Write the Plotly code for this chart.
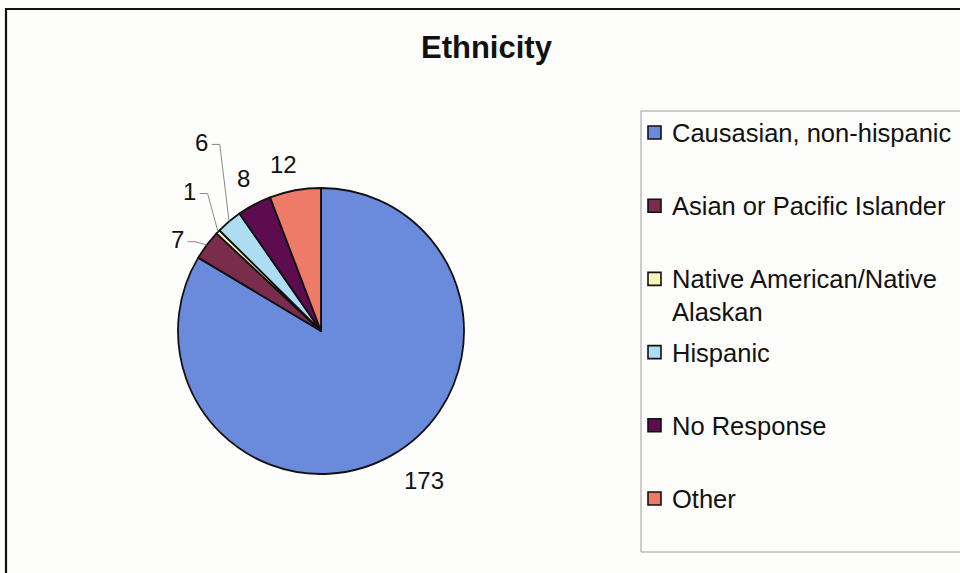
import math
import plotly.graph_objects as go

# ---- data ----
categories = ["Causasian, non-hispanic", "Asian or Pacific Islander",
              "Native American/Native Alaskan", "Hispanic", "No Response", "Other"]
legend_text = ["Causasian, non-hispanic", "Asian or Pacific Islander",
               "Native American/Native<br>Alaskan", "Hispanic", "No Response", "Other"]
values = [173, 7, 1, 6, 8, 12]
colors = ["#6A8BDB", "#7A2C4C", "#F8F5BA", "#AEDDF3", "#5E0C50", "#EE7A68"]

# ---- label placement style (radius factor, angle nudge in degrees, leader line) ----
label_r = [1.27, 1.19, 1.34, 1.56, 1.20, 1.19]
label_dang = [-4.9, -4.5, 2.8, 7.7, 0.8, -2.2]
label_leader = [False, True, True, True, False, False]

W, H = 960, 573
CX, CY, R = 321, 331, 143
FONT = "Liberation Sans, Arial, sans-serif"


def px(x):
    return x / W


def py(y):
    return 1 - y / H


fig = go.Figure()
fig.add_trace(go.Pie(
    labels=categories, values=values, sort=False, direction="clockwise", rotation=0,
    marker=dict(colors=colors, line=dict(color="#111111", width=1.8)),
    textinfo="none", hoverinfo="label+value", showlegend=False,
    domain=dict(x=[px(CX - R), px(CX + R)], y=[py(CY + R), py(CY - R)]),
))

shapes = []
annotations = []

# outer frame and legend box
shapes.append(dict(type="rect", xref="paper", yref="paper", x0=px(6), x1=px(975), y0=py(588), y1=py(9),
                   line=dict(color="#111111", width=2.2), fillcolor="rgba(0,0,0,0)", layer="below"))
shapes.append(dict(type="rect", xref="paper", yref="paper", x0=px(641), x1=px(975), y0=py(552), y1=py(111),
                   line=dict(color="#9A9A9A", width=1), fillcolor="rgba(0,0,0,0)", layer="below"))

# title
annotations.append(dict(text="<b>Ethnicity</b>", xref="paper", yref="paper", x=px(487), y=py(47),
                        showarrow=False, font=dict(family=FONT, size=31, color="#111111"),
                        xanchor="center", yanchor="middle"))

# slice labels computed from data angles
total = sum(values)
cum = 0.0
for i, v in enumerate(values):
    mid = (cum + v / 2) / total * 360.0
    cum += v
    a = math.radians(mid + label_dang[i])
    lx = CX + R * label_r[i] * math.sin(a)
    ly = CY - R * label_r[i] * math.cos(a)
    annotations.append(dict(text=str(v), xref="paper", yref="paper", x=px(lx), y=py(ly),
                            showarrow=False, font=dict(family=FONT, size=24, color="#111111"),
                            xanchor="center", yanchor="middle"))
    if label_leader[i]:
        am = math.radians(mid)
        ex = CX + R * math.sin(am)
        ey = CY - R * math.cos(am)
        x1, y1 = lx + 10, ly + 2
        x2 = lx + 18
        path = f"M {px(x1)} {py(y1)} L {px(x2)} {py(y1)} L {px(ex)} {py(ey)}"
        shapes.append(dict(type="path", xref="paper", yref="paper", path=path,
                           line=dict(color="#8A8A8A", width=1)))

# custom legend
for i, (t, c) in enumerate(zip(legend_text, colors)):
    yc = 131 + 73.2 * i
    shapes.append(dict(type="rect", xref="paper", yref="paper",
                       x0=px(648), x1=px(661), y0=py(yc + 8), y1=py(yc - 5),
                       fillcolor=c, line=dict(color="#111111", width=1.6)))
    annotations.append(dict(text=t, xref="paper", yref="paper", x=px(670), y=py(yc - 14),
                            showarrow=False, font=dict(family=FONT, size=25.5, color="#111111"),
                            xanchor="left", yanchor="top", align="left"))

fig.update_layout(
    width=W, height=H, margin=dict(l=0, r=0, t=0, b=0),
    paper_bgcolor="#FDFDFB", plot_bgcolor="#FDFDFB",
    shapes=shapes, annotations=annotations, showlegend=False,
)

fig.write_html("out.html")
